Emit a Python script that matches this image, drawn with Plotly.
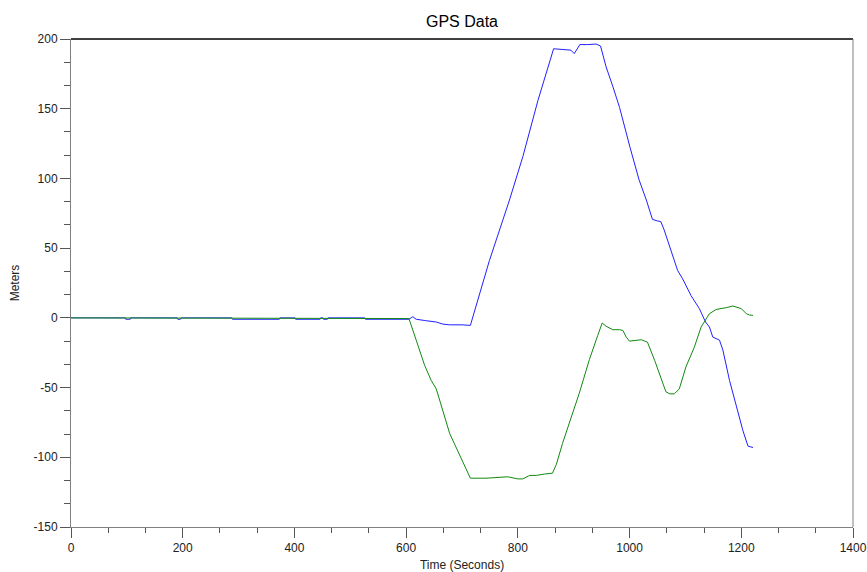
import plotly.graph_objects as go

# ---- data ----
blue_t = [0, 97, 98, 106, 107, 190, 191, 196, 197, 288, 289, 373, 374, 401, 402, 446, 447, 451,
          452, 459, 460, 526, 527, 602, 605, 612, 618, 635, 654, 666, 678, 700, 713, 715,
          749, 785, 809, 836, 864, 880, 895, 901, 906, 911, 925, 940, 948, 958, 970, 982,
          1001, 1017, 1030, 1041, 1050, 1056, 1062, 1070, 1077, 1086, 1095, 1110, 1125,
          1136, 1143, 1149, 1161, 1167, 1179, 1191, 1203, 1212, 1219, 1221]
blue_y = [0, 0, -1, -1, 0, 0, -1, -1, 0, 0, -1, -1, 0, 0, -1, -1, 0, 0,
          -1, -1, 0, 0, -1, -1, -1, 0.8, -1, -2, -3, -4.5, -5, -5, -5.4, -5.4,
          41, 84.5, 115.7, 156, 193, 192.5, 192, 189.5, 193, 196, 196, 196.4, 195, 180, 166, 151,
          122, 99, 84.5, 70.6, 69.5, 69, 63, 53, 43.7, 34, 28, 16, 6.6,
          -3, -6.6, -13.8, -16, -23, -45, -64, -81, -92, -93, -93]

green_t = [0, 605, 618, 633, 645, 654, 678, 698, 715, 743, 767, 782, 800, 809, 821, 833, 848,
           862, 869, 880, 910, 928, 943, 951, 958, 970, 982, 988, 994, 1000, 1021, 1032, 1045,
           1057, 1065, 1072, 1080, 1089, 1101, 1116, 1128, 1143, 1155, 1173, 1185, 1200,
           1209, 1215, 1221]
green_y = [0, -0.5, -16, -34, -45, -51, -83, -100, -115, -115, -114.5, -114, -115.5, -115.5,
           -113, -113, -112, -111.4, -105, -90, -54, -30, -12.6, -3.7, -6, -8.5, -8.5, -9,
           -13.8, -16.7, -15.7, -17.4, -30.6, -45, -53, -54.5, -54.5, -51, -35, -21, -6.6,
           3, 6, 7.3, 8.5, 6.6, 3, 2, 1.8]

x_ticks = [0, 200, 400, 600, 800, 1000, 1200, 1400]
y_ticks = [-150, -100, -50, 0, 50, 100, 150, 200]

FONT = "Liberation Sans, Arial, sans-serif"

fig = go.Figure()
fig.add_trace(go.Scatter(x=blue_t, y=blue_y, mode="lines",
                         line=dict(color="#2020ff", width=1), showlegend=False))
fig.add_trace(go.Scatter(x=green_t, y=green_y, mode="lines",
                         line=dict(color="#108a10", width=1), showlegend=False))

axis_common = dict(
    showgrid=False, zeroline=False, showline=True, linecolor="#808080", linewidth=1,
    ticks="outside", tickcolor="#555555", ticklen=10, tickwidth=1, automargin=False,
    tickfont=dict(family=FONT, size=12, color="#222222"),
)

fig.update_xaxes(range=[0, 1400], tickvals=x_ticks, ticktext=[str(v) for v in x_ticks],
                 minor=dict(dtick=200 / 3, tick0=0, ticks="outside", ticklen=5,
                            tickcolor="#555555", showgrid=False),
                 title=dict(text="Time (Seconds)", font=dict(family=FONT, size=12, color="#222222"),
                            standoff=6),
                 **axis_common)
fig.update_yaxes(range=[-150, 200], tickvals=y_ticks, ticktext=[str(v) for v in y_ticks],
                 minor=dict(dtick=50 / 3, tick0=0, ticks="outside", ticklen=6,
                            tickcolor="#555555", showgrid=False),
                 title=dict(text="Meters", font=dict(family=FONT, size=12, color="#222222"),
                            standoff=11),
                 **axis_common)

# top (black) and right (gray) frame lines
fig.add_shape(type="line", xref="paper", yref="paper", x0=0, x1=1, y0=1, y1=1,
              line=dict(color="#000000", width=1.5))
fig.add_shape(type="line", xref="paper", yref="paper", x0=1, x1=1, y0=0, y1=1,
              line=dict(color="#808080", width=1))

fig.update_layout(
    width=867, height=572,
    margin=dict(l=71, r=14, t=39, b=45),
    plot_bgcolor="white", paper_bgcolor="white",
    title=dict(text="GPS Data", x=0.5, xref="paper", y=1 - 21 / 572, yref="container",
               yanchor="middle",
               font=dict(family=FONT, size=16, color="#000000")),
)

fig.write_html("out.html", config={"displayModeBar": False},
               post_script="document.body.style.margin='0px';document.body.style.overflow='hidden';")
